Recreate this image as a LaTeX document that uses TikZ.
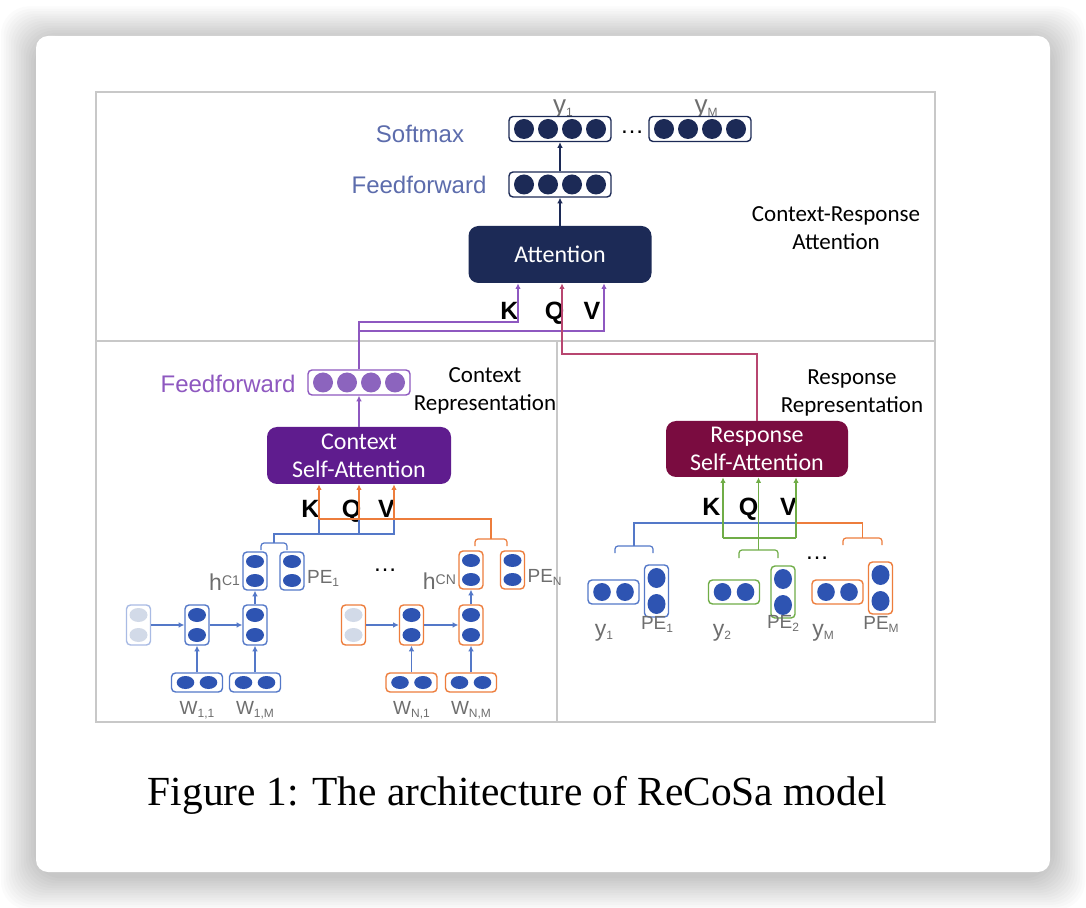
\documentclass[tikz,border=0pt]{standalone}
\usepackage{fontspec}
\setmainfont{Liberation Sans}
\newfontfamily\calib{Carlito}
\newfontfamily\capfont{Liberation Serif}
\usetikzlibrary{positioning, calc, arrows.meta}

\definecolor{navy}{RGB}{28,42,86}
\definecolor{smaxtxt}{RGB}{92,108,172}
\definecolor{panelgray}{RGB}{200,200,200}
\definecolor{bluebox}{RGB}{84,120,200}
\definecolor{bluedot}{RGB}{46,84,178}
\definecolor{fadedot}{RGB}{210,218,232}
\definecolor{orng}{RGB}{237,125,60}
\definecolor{grn}{RGB}{112,173,71}
\definecolor{purp}{RGB}{142,88,192}
\definecolor{purpdot}{RGB}{140,100,190}
\definecolor{ctxfill}{RGB}{95,28,142}
\definecolor{resfill}{RGB}{122,12,64}
\definecolor{qcol}{RGB}{184,70,112}
\definecolor{lblgray}{RGB}{110,110,110}

\newcommand{\lowtxt}[1]{\raisebox{-1.5pt}{\fontsize{6}{6}\selectfont #1}}
\newcommand{\hightxt}[1]{\raisebox{2.5pt}{\fontsize{7}{7}\selectfont #1}}

\tikzset{
  vecbox/.style={draw, rounded corners=2pt, line width=0.7pt, inner sep=0pt, fill=white},
  block/.style={rounded corners=5pt, text=white, align=center, inner sep=0pt,
    font=\calib\fontsize{12}{14}\selectfont},
  lname/.style={font=\fontsize{12}{14}\selectfont},
  desc/.style={font=\calib\fontsize{11.5}{14}\selectfont, align=center},
  kqv/.style={font=\bfseries\fontsize{12.5}{13}\selectfont, inner sep=0pt, anchor=base},
  lbl/.style={text=lblgray, inner sep=0pt, font=\fontsize{9.5}{10}\selectfont},
  panel/.style={draw=panelgray, line width=0.75pt},
  wire/.style={line width=0.6pt},
  arr/.style={wire, -{Latex[length=2.8pt,width=2.8pt]}},
}

% vectors of dots: name, x, y, frame colour, dot colour (, height in px)
\newcommand{\fourvec}[5]{%
  \node[vecbox, draw=#4, minimum width=51pt, minimum height=12.5pt] (#1) at (#2,#3) {};
  \foreach \k in {-1.5,-0.5,0.5,1.5}
    \fill[#5] ($(#1)+(\k*24,0)$) circle[radius=5pt];
}
\newcommand{\tworow}[6]{%
  \node[vecbox, draw=#4, minimum width=25.5pt, minimum height=#6*0.5pt] (#1) at (#2,#3) {};
  \foreach \k in {-1,1}
    \fill[#5] ($(#1)+(\k*11.5,0)$) ellipse[x radius=4.4pt, y radius={(#6/2-3)*0.5pt}];
}
\newcommand{\twocol}[6]{%
  \node[vecbox, draw=#4, minimum width=12pt, minimum height=#6*0.5pt] (#1) at (#2,#3) {};
  \foreach \k in {-1,1}
    \fill[#5] ($(#1)+(0,\k*#6/4)$) ellipse[x radius=4.5pt, y radius={(#6/4-3)*0.5pt}];
}
% bracket: name of its top, left x, right x, bar y, end y, colour
\newcommand{\bracket}[6]{%
  \draw[wire, #6, rounded corners=1.5pt] (#2,#5) |- ({(#2+#3)/2},#4) -| (#3,#5);
  \coordinate (#1) at ({(#2+#3)/2},#4);
}

\begin{document}
\begin{tikzpicture}[x=0.5pt, y=-0.5pt]
\useasboundingbox (0,0) rectangle (1086,908);
\fill[white] (0,0) rectangle (1086,908);
% card with its shadow
\foreach \s in {1,...,14}
  \fill[black, opacity=0.014, rounded corners=14pt] (36-2.5*\s,40-2.4*\s) rectangle (1050+2.5*\s,876+2.4*\s);
\fill[white, rounded corners=6pt] (36,36) rectangle (1050,872);

% panels
\draw[panel] (96,92) rectangle (935,722);
\draw[panel] (96,341) -- (935,341);
\draw[panel] (557,341) -- (557,722);

% context-response attention
\node[lname, text=smaxtxt] (smaxlbl) at (420,134) {Softmax};
\node[lname, text=smaxtxt] (tfflbl) at (419,185) {Feedforward};
\node[lbl, font=\fontsize{13}{13}\selectfont, anchor=base] (y1top) at (563,114) {y\lowtxt{1}};
\node[lbl, font=\fontsize{13}{13}\selectfont, anchor=base] (ymtop) at (706,114) {y\lowtxt{M}};
\fourvec{smax1}{560}{129}{navy}{navy}
\fourvec{smaxm}{700}{129}{navy}{navy}
\node[font=\fontsize{12}{12}\selectfont] (topdots) at (632,132) {\dots};
\fourvec{tff}{560}{184.5}{navy}{navy}
\node[block, fill=navy, minimum width=91.5pt, minimum height=28.5pt] (att) at (560,254.5) {Attention};
\node[desc] (crlbl) at (836,228) {Context-Response\\Attention};
\node[kqv] (tK) at (509.5,320) {K};
\node[kqv] (tQ) at (554.5,320) {Q};
\node[kqv] (tV) at (592,320) {V};
\draw[arr, navy] (att) -- (tff);
\draw[arr, navy] (tff) -- (smax1);

% context representation
\node[lname, text=purp] (cfflbl) at (228,384) {Feedforward};
\fourvec{cff}{359}{382.5}{purp}{purpdot}
\node[desc] (crep) at (485,391) {Context\\Representation};
\node[block, fill=ctxfill, minimum width=92pt, minimum height=28.5pt] (csa) at (359,455.5) {Context\\Self-Attention};
\draw[arr, purp] (csa) -- (cff);
\node[kqv] (lKl) at (310.5,517) {K};
\node[kqv] (lQl) at (351.5,517) {Q};
\node[kqv] (lVl) at (386.5,517) {V};

\twocol{hc1}{255}{571}{bluebox}{bluedot}{38}
\twocol{pe1}{292}{571}{bluebox}{bluedot}{38}
\twocol{h10}{138.5}{625}{bluebox!50}{fadedot}{40}
\twocol{h11}{197}{625}{bluebox}{bluedot}{40}
\twocol{h12}{255}{625}{bluebox}{bluedot}{40}
\tworow{w11}{197}{682.5}{bluebox}{bluedot}{19}
\tworow{w1m}{255}{682.5}{bluebox}{bluedot}{19}
\draw[arr, bluebox] (h10) -- (h11);
\draw[arr, bluebox] (h11) -- (h12);
\draw[arr, bluebox] (w11) -- (h11);
\draw[arr, bluebox] (w1m) -- (h12);
\draw[arr, bluebox] (h12) -- (hc1);
\node[lbl, font=\fontsize{11.5}{12}\selectfont, anchor=base east] (hc1lbl) at ([xshift=-1pt]hc1.south west) {h\hightxt{C1}};
\node[lbl, anchor=base west] (pe1lbl) at ($(pe1.east)+(2,12)$) {PE\lowtxt{1}};
\node[lbl, below=4pt of w11] (w11lbl) {W\lowtxt{1,1}};
\node[lbl, below=4pt of w1m] (w1mlbl) {W\lowtxt{1,M}};

\node[font=\fontsize{12}{12}\selectfont] (ldots) at (385,570) {\dots};
\twocol{hcn}{471}{570}{orng}{bluedot}{38}
\twocol{pen}{512.5}{570}{orng}{bluedot}{38}
\twocol{hn0}{353.5}{625}{orng}{fadedot}{40}
\twocol{hn1}{411.5}{625}{orng}{bluedot}{40}
\twocol{hn2}{471}{625}{orng}{bluedot}{40}
\tworow{wn1}{411.5}{682.5}{orng}{bluedot}{19}
\tworow{wnm}{471}{682.5}{orng}{bluedot}{19}
\draw[arr, bluebox] (hn0) -- (hn1);
\draw[arr, bluebox] (hn1) -- (hn2);
\draw[arr, bluebox] (wn1) -- (hn1);
\draw[arr, bluebox] (wnm) -- (hn2);
\draw[arr, bluebox] (hn2) -- (hcn);
\node[lbl, font=\fontsize{11.5}{12}\selectfont, anchor=base east] (hcnlbl) at ([xshift=-1pt]hcn.south west) {h\hightxt{CN}};
\node[lbl, anchor=base west] (penlbl) at ($(pen.east)+(2,12)$) {PE\lowtxt{N}};
\node[lbl, below=4pt of wn1] (wn1lbl) {W\lowtxt{N,1}};
\node[lbl, below=4pt of wnm] (wnmlbl) {W\lowtxt{N,M}};

\bracket{b1}{261}{287}{543}{550}{bluebox}
\bracket{bn}{475}{507}{539}{546}{orng}
\coordinate (lk) at (319,519);
\coordinate (lq) at (359,519);
\coordinate (lv) at (394,519);
\draw[wire, bluebox] (b1) -- ++(0,-9) -| (lv);
\draw[wire, bluebox] (lk |- 0,534) -- (lk);
\draw[wire, bluebox] (lq |- 0,534) -- (lq);
\draw[wire, orng] (bn) |- (lk);
\foreach \c in {lk,lq,lv}
  \draw[arr, orng] (\c) -- (csa.south -| \c);

% response representation
\node[desc] (rrep) at (852,392.5) {Response\\Representation};
\node[block, fill=resfill, minimum width=91pt, minimum height=28pt] (rsa) at (757,449) {Response\\Self-Attention};
\node[kqv] (rKl) at (711.5,516) {K};
\node[kqv] (rQl) at (748.5,516) {Q};
\node[kqv] (rVl) at (788.5,516) {V};

\tworow{ry1}{613.5}{592}{bluebox}{bluedot}{24}
\twocol{rpe1}{656.5}{591}{bluebox}{bluedot}{52}
\tworow{ry2}{734}{592}{grn}{bluedot}{24}
\twocol{rpe2}{783}{592}{grn}{bluedot}{52}
\tworow{rym}{837.5}{592}{orng}{bluedot}{24}
\twocol{rpem}{880.5}{588}{orng}{bluedot}{52}
\node[font=\fontsize{12}{12}\selectfont] (rdots) at (817,558) {\dots};
\node[lbl, font=\fontsize{11.5}{12}\selectfont, anchor=base] (ry1lbl) at (604,636) {y\lowtxt{1}};
\node[lbl, anchor=base] (rpe1lbl) at (657,629) {PE\lowtxt{1}};
\node[lbl, font=\fontsize{11.5}{12}\selectfont, anchor=base] (ry2lbl) at (722,636) {y\lowtxt{2}};
\node[lbl, anchor=base] (rpe2lbl) at (783,628) {PE\lowtxt{2}};
\node[lbl, font=\fontsize{11.5}{12}\selectfont, anchor=base] (rymlbl) at (823,636) {y\lowtxt{M}};
\node[lbl, anchor=base] (rpemlbl) at (881,629) {PE\lowtxt{M}};

\bracket{by1}{615}{653}{546}{553}{bluebox}
\bracket{by2}{739}{778}{550}{558}{grn}
\bracket{bym}{843}{882}{538}{545}{orng}
\coordinate (rk) at (723,538);
\coordinate (rq) at (758.5,538);
\coordinate (rv) at (796,538);
\draw[wire, bluebox] (by1) |- (rv |- 0,523);
\draw[wire, orng] (bym) |- (rv |- 0,523);
\draw[wire, grn] (by2) -- (rq);
\draw[wire, grn] (rk) -- (rv);
\foreach \c in {rk,rq,rv}
  \draw[arr, grn] (\c) -- (rsa.south -| \c);

% into the context-response attention
\coordinate (tk) at (518,322);
\coordinate (tv) at (604,331);
\coordinate (tq) at (562,354);
\draw[arr, purp] (cff.north) |- (tk) -- (att.south -| tk);
\draw[arr, purp] (cff.north |- tv) -- (tv) -- (att.south -| tv);
\draw[arr, qcol] (rsa.north) |- (tq) -- (att.south -| tq);

\node[font=\capfont\fontsize{20.7}{24}\selectfont] (caption) at (517.5,795) {Figure 1: The architecture of ReCoSa model};
\end{tikzpicture}
\end{document}
